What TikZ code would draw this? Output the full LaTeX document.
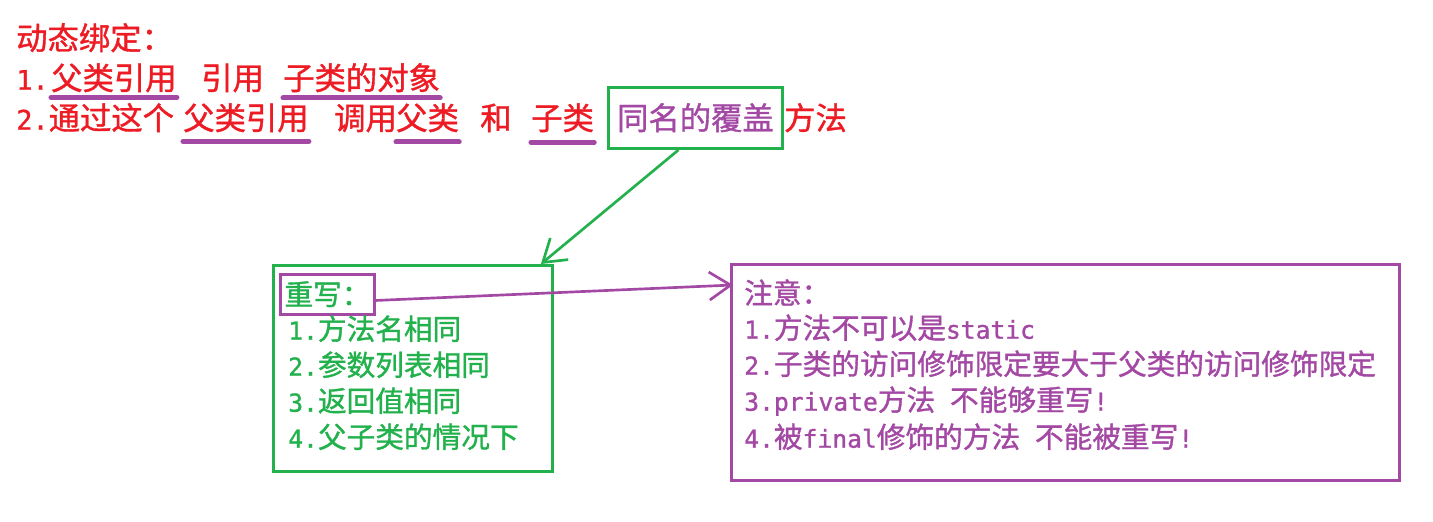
\documentclass[tikz,border=0pt]{standalone}
\usepackage{fontspec}
\setmainfont{Noto Sans CJK SC}[FakeBold=1.2]
\newfontfamily\halfMono{DejaVu Sans Mono}[Scale=0.86, FakeBold=1.2]
\usepackage{xcolor}
\definecolor{paintRed}{HTML}{ED1C24}
\definecolor{paintGreen}{HTML}{22B14C}
\definecolor{paintPurple}{HTML}{A349A4}
\usetikzlibrary{arrows.meta, positioning}

\newcommand{\hw}[1]{{\halfMono #1}}

\begin{document}
\begin{tikzpicture}[
  x=0.75pt, y=-0.75pt,
  every node/.style={inner sep=0pt, anchor=west},
  bigTxt/.style={font=\fontsize{23.5}{23.5}\selectfont, text height=19.5pt, text depth=2pt, text=paintRed},
  smallTxt/.style={font=\fontsize{21.5}{21.5}\selectfont, text height=18pt, text depth=2pt, text=#1},
  frameBox/.style={draw=#1, line width=2.2pt, anchor=north west, align=center},
  underLine/.style={line width=3.8pt, paintPurple, line cap=round},
  barbArrow/.style={-{Straight Barb[length=16pt, width=21pt]}, line width=2pt, #1},
]
\useasboundingbox (0,0) rectangle (1433,521);

% ------------------- Dynamic binding (top) -------------------
\node[bigTxt] (dynTitle) at (16,38) {动态绑定：};

\node[bigTxt] (numOne)    at (16,78)  {\hw{1.}};
\node[bigTxt] (parentRef) at (51,78)  {父类引用};
\node[bigTxt] (refVerb)   at (201,78) {引用};
\node[bigTxt] (childObj)  at (283,78) {子类的对象};

\node[bigTxt] (numTwo)     at (16,118)  {\hw{2.}通过这个};
\node[bigTxt] (parentRefB) at (183,118) {父类引用};
\node[bigTxt] (callVerb)   at (334,118) {调用};
\node[bigTxt] (parentCls)  at (396,118) {父类};
\node[bigTxt] (andWord)    at (480,118) {和};
\node[bigTxt] (childCls)   at (531,118) {子类};
\node[bigTxt, frameBox=paintGreen, text=paintPurple,
      minimum width=130.5pt, minimum height=45.75pt] (sameName) at (607,86) {同名的覆盖};
\node[bigTxt, right=0pt of sameName, anchor=west] (methodWord) {方法};

% Underlines
\draw[underLine] ([yshift=-3.5pt]parentRef.south west) -- ([yshift=-3.5pt]parentRef.south east);
\draw[underLine] ([yshift=-4pt]childObj.south west) -- ([yshift=-4pt]childObj.south east);
\draw[underLine] ([yshift=-6.5pt]parentRefB.south west) -- ([yshift=-6.5pt]parentRefB.south east);
\draw[underLine] ([yshift=-7pt]parentCls.south west) -- ([yshift=-7pt]parentCls.south east);
\draw[underLine] ([yshift=-7.3pt]childCls.south west) -- ([yshift=-7.3pt]childCls.south east);

% ------------------- Override box (left) -------------------
\node[frameBox=paintGreen, minimum width=209.25pt, minimum height=154.5pt] (overBox) at (272,264) {};
\node[smallTxt=paintGreen, frameBox=paintPurple, minimum width=70.5pt, minimum height=30pt] (ovTitle) at (279,273) {重写：};
\node[smallTxt=paintGreen] (ovItemA) at (288,329) {\hw{1.}方法名相同};
\node[smallTxt=paintGreen] (ovItemB) at (288,365) {\hw{2.}参数列表相同};
\node[smallTxt=paintGreen] (ovItemC) at (288,401) {\hw{3.}返回值相同};
\node[smallTxt=paintGreen] (ovItemD) at (288,437) {\hw{4.}父子类的情况下};

% ------------------- Notes box (right) -------------------
\node[frameBox=paintPurple, minimum width=501pt, minimum height=162pt] (noteBox) at (730,263) {};
\node[smallTxt=paintPurple] (noteTitle) at (744,293) {注意：};
\node[smallTxt=paintPurple] (noteItemA) at (744,328) {\hw{1.}方法不可以是\hw{static}};
\node[smallTxt=paintPurple] (noteItemB) at (744,364) {\hw{2.}子类的访问修饰限定要大于父类的访问修饰限定};
\node[smallTxt=paintPurple] (noteItemC) at (744,400) {\hw{3.private}方法\hw{ }不能够重写\hw{!}};
\node[smallTxt=paintPurple] (noteItemD) at (744,437) {\hw{4.}被\hw{final}修饰的方法\hw{ }不能被重写\hw{!}};

% Arrows
\draw[barbArrow=paintGreen] ([xshift=-12.75pt]sameName.south) -- ([xshift=-9.75pt]overBox.north east);
\draw[barbArrow=paintPurple] ([yshift=-4.5pt]ovTitle.east) -- ([xshift=2.25pt, yshift=-16.5pt]noteBox.north west);

\end{tikzpicture}
\end{document}
